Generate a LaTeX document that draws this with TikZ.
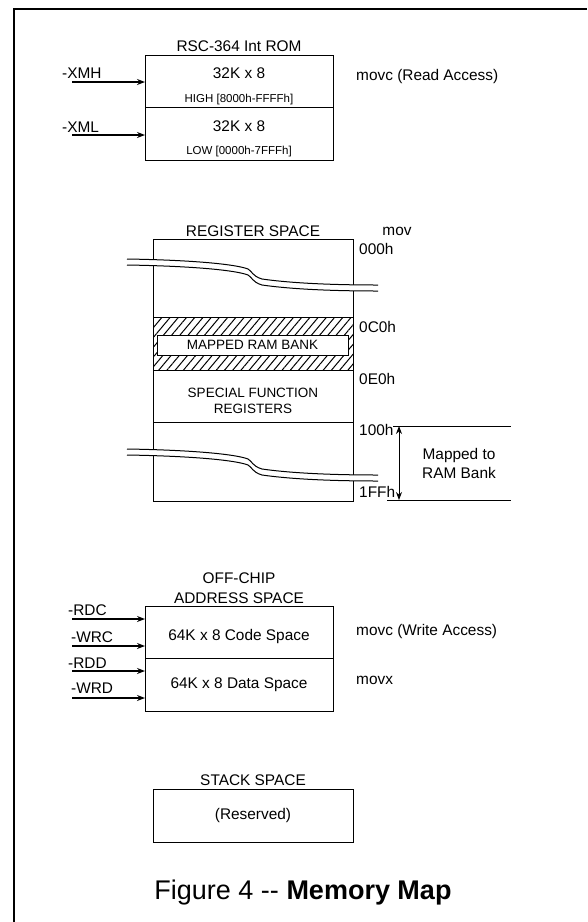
\documentclass[tikz,border=0pt]{standalone}
\usepackage{fontspec}
\setmainfont{Liberation Sans}
\usetikzlibrary{arrows.meta,positioning,patterns.meta}
\definecolor{mapInk}{HTML}{000000}

\begin{document}
\begin{tikzpicture}[x=1pt, y=-1pt,
  block/.style={rectangle, draw=mapInk, fill=white, line width=1pt, minimum width=188pt, minimum height=52pt, inner sep=0pt, outer sep=0pt},
  regblock/.style={block, minimum width=200pt},
  hatch/.style={regblock, pattern={Lines[angle=50, distance=6.3pt, line width=1pt]}, pattern color=mapInk},
  txt/.style={inner sep=0pt, font=\fontsize{15.4}{19}\selectfont, align=center},
  tiny/.style={inner sep=0pt, font=\fontsize{11.5}{14}\selectfont},
  mid/.style={inner sep=0pt, font=\fontsize{13.5}{15.7}\selectfont, align=center},
  sig/.style={-{Stealth[length=8pt, width=6pt]}, line width=1.6pt, draw=mapInk},
  dim/.style={{Stealth[length=8pt, width=6pt]}-{Stealth[length=8pt, width=6pt]}, line width=1pt, draw=mapInk},
  brk/.style={line width=1pt, draw=mapInk}
]
\useasboundingbox (0,0) rectangle (587,922);
\draw[line width=2pt, draw=mapInk] (14,922) -- (14,9) -- (587,9);

\node[block, minimum height=52.2pt] (romhi) at (239,81.8) {};
\node[block, minimum height=52.2pt, below=0pt of romhi] (romlo) {};
\node[txt, above=4pt of romhi] (romtitle) {RSC-364 Int ROM};
\node[txt] (hisize) at ([yshift=9pt]romhi.center) {32K x 8};
\node[tiny] (hirange) at ([yshift=-18pt]romhi.center) {HIGH [8000h-FFFFh]};
\node[txt] (losize) at ([yshift=8pt]romlo.center) {32K x 8};
\node[tiny] (lorange) at ([yshift=-18pt]romlo.center) {LOW [0000h-7FFFh]};
\node[txt, anchor=west] (rdacc) at (356,77) {movc (Read Access)};
\node[txt, anchor=west] (xmhlbl) at (62,73) {-XMH};
\node[txt, anchor=west] (xmllbl) at (62,127) {-XML};
\coordinate (xmh) at (72,82);
\coordinate (xml) at (72,135);
\draw[sig] (xmh) -- (xmh -| romhi.west);
\draw[sig] (xml) -- (xml -| romlo.west);

\node[regblock, minimum height=78pt] (regtop) at (253,278) {};
\node[hatch, minimum height=53pt, below=0pt of regtop] (ramhatch) {};
\node[regblock, minimum height=52pt, below=0pt of ramhatch] (sfr) {};
\node[regblock, minimum height=79pt, below=0pt of sfr] (regbot) {};
\node[txt, above=2.5pt of regtop] (regtitle) {REGISTER SPACE};
\node[txt] (mov) at (397,231) {mov};
\foreach \a/\y in {000h/249, 0C0h/327, 0E0h/379, 100h/430, 1FFh/492}
  \node[txt, anchor=west] (a\a) at (359,\y) {\a};
\node[block, mid, minimum width=191pt, minimum height=20pt] (ramwin) at (252.5,345) {MAPPED RAM BANK};
\node[mid] (sfrtxt) at ([yshift=-4.5pt]sfr.center) {SPECIAL FUNCTION\\REGISTERS};

\foreach \dy in {0,190}{
  \begin{scope}[yshift=-\dy pt]
    \fill[white] (127,259) .. controls (190,260) and (235,264) .. (248,269)
      .. controls (252,271) and (252,276) .. (262,279)
      .. controls (290,283) and (330,285) .. (378,285) -- (378,291)
      .. controls (330,291) and (290,289) .. (262,285)
      .. controls (252,282) and (252,277) .. (248,275)
      .. controls (235,270) and (190,266) .. (127,265) -- cycle;
    \draw[brk] (127,259) .. controls (190,260) and (235,264) .. (248,269)
      .. controls (252,271) and (252,276) .. (262,279)
      .. controls (290,283) and (330,285) .. (378,285);
    \draw[brk] (127,265) .. controls (190,266) and (235,270) .. (248,275)
      .. controls (252,277) and (252,282) .. (262,285)
      .. controls (290,289) and (330,291) .. (378,291);
  \end{scope}
}

\coordinate (m100) at (399,426);
\coordinate (m1ff) at (399,500);
\draw[line width=0.9pt, draw=mapInk] (393,426) -- (511,426);
\draw[line width=0.9pt, draw=mapInk] (387,500) -- (511,500);
\draw[dim] (m100) -- (m1ff);
\node[txt] (maptxt) at (459,463.5) {Mapped to\\RAM Bank};

\node[block, minimum height=52pt] (code) at (239,632) {};
\node[block, minimum height=53pt, below=0pt of code] (data) {};
\node[txt, font=\fontsize{15.4}{20}\selectfont, above=2.5pt of code] (offtitle) {OFF-CHIP\\ADDRESS SPACE};
\node[txt] (codetxt) at ([yshift=-5pt]code.center) {64K x 8 Code Space};
\node[txt] (datatxt) at (data.center) {64K x 8 Data Space};
\node[txt, anchor=west] (wracc) at (356,632) {movc (Write Access)};
\node[txt, anchor=west] (movx) at (356,680) {movx};
\foreach \s/\ly/\lx/\ay in {RDC/610/68/619, WRC/637/71/646, RDD/663/68/671, WRD/688/71/698}{
  \node[txt, anchor=west] (l\s) at (\lx,\ly) {-\s};
  \coordinate (p\s) at (72,\ay);
  \draw[sig] (p\s) -- (p\s -| code.west);
}

\node[regblock, minimum height=53pt] (stack) at (253,815.5) {};
\node[txt, above=3.5pt of stack] (stacktitle) {STACK SPACE};
\node[txt] (reserved) at (stack.center) {(Reserved)};

\node[inner sep=0pt, font=\fontsize{27}{31}\selectfont] (caption) at (303,893) {Figure 4 -{}- \textbf{Memory Map}};
\end{tikzpicture}
\end{document}
